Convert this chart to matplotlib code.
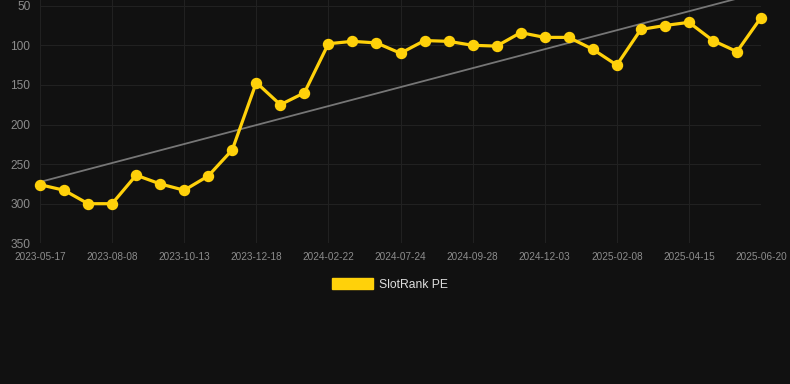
import matplotlib.pyplot as plt
import numpy as np
from matplotlib.patches import Patch

# SlotRank PE rank over time (lower is better, axis inverted)
rank = [276, 283, 300, 300, 264, 275, 283, 265, 232, 147, 175, 160, 98, 95, 97,
        110, 94, 95, 100, 101, 84, 90, 90, 105, 125, 80, 75, 71, 94, 108, 65]
tick_labels = ["2023-05-17", "2023-08-08", "2023-10-13", "2023-12-18",
               "2024-02-22", "2024-07-24", "2024-09-28", "2024-12-03",
               "2025-02-08", "2025-04-15", "2025-06-20"]
y_ticks = [50, 100, 150, 200, 250, 300, 350]

plt.rcParams["font.family"] = ["Liberation Sans", "DejaVu Sans"]

bg = "#111111"
grid_c = "#212121"
text_c = "#8c8c8c"
yellow = "#ffd10a"

x = np.arange(len(rank))
slope, icpt = np.polyfit(x, rank, 1)

fig = plt.figure(figsize=(7.9, 3.84), dpi=100, facecolor=bg)
ax = fig.add_axes([40 / 790, 1 - 243.3 / 384, 721 / 790, 243.3 / 384])
ax.set_facecolor(bg)

ax.plot(x, slope * x + icpt, color="#767676", linewidth=1.3, zorder=2)
ax.plot(x, rank, color=yellow, linewidth=2.3, marker="o", markersize=7.2,
        clip_on=False, zorder=3)

ax.set_xlim(0, len(rank) - 1)
ax.set_ylim(350, 50 - 5.7 / 0.7915)
ax.set_xticks(x[::3])
ax.set_xticklabels(tick_labels)
ax.set_yticks(y_ticks)

ax.grid(True, color=grid_c, linewidth=0.8)
ax.set_axisbelow(True)
for s in ax.spines.values():
    s.set_visible(False)
ax.tick_params(axis="y", length=0, pad=7, labelsize=8.6, labelcolor=text_c)
ax.tick_params(axis="x", length=0, pad=6, labelsize=7.2, labelcolor=text_c)

fig.legend(handles=[Patch(facecolor=yellow, edgecolor=yellow, label="SlotRank PE")],
           loc="center", bbox_to_anchor=(0.494, 1 - 284.5 / 384), frameon=False,
           handlelength=3.4, handleheight=0.95, handletextpad=0.5,
           fontsize=8.7, labelcolor="#dddddd")

fig.savefig("out.png", dpi=100, facecolor=bg)
